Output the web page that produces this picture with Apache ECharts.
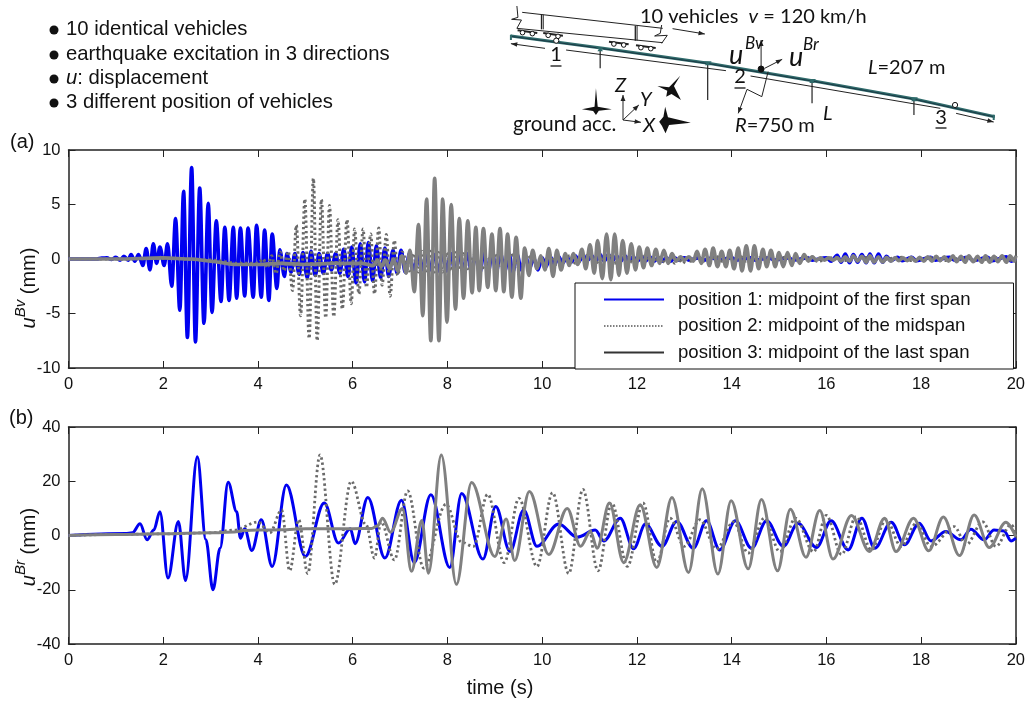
<!DOCTYPE html>
<html><head><meta charset="utf-8">
<style>html,body{margin:0;padding:0;background:#fff}#c{width:1028px;height:702px}</style>
<script src="https://cdn.jsdelivr.net/npm/echarts@6/dist/echarts.min.js"></script>
</head><body><div id="c"></div>
<script>
const seriesNames=['position 1: midpoint of the first span','position 2: midpoint of the midspan','position 3: midpoint of the last span'];
const xMax=20,xStep=2,yAMax=10,yAStep=5,yBMax=40,yBStep=20;
const blueA=[[0,0],[.6,0],[.7,.08],[.81,.1],[.91,-.05],[1,.15],[1.09,-.1],[1.17,.25],[1.26,-.1],[1.32,.4],[1.4,-.2],[1.48,.4],[1.57,-.6],[1.64,.95],[1.72,-1],[1.79,1.4],[1.86,-.4],[1.93,1.1],[2.02,-.6],[2.09,1.4],[2.18,-2.5],[2.26,3.7],[2.35,-4.7],[2.43,6.2],[2.51,-7.2],[2.6,8.4],[2.68,-7.6],[2.77,6.5],[2.86,-5.9],[2.95,5.1],[3.03,-4.9],[3.12,3.5],[3.22,-3.9],[3.3,2.9],[3.39,-3.8],[3.48,2.9],[3.55,-3.6],[3.63,2.85],[3.72,-3.4],[3.79,2.85],[3.9,-3.5],[3.97,3.1],[4.07,-3.5],[4.14,2.65],[4.23,-3.8],[4.3,2.3],[4.4,-2.7],[4.46,.85],[4.56,-1.6],[4.61,.5],[4.7,-1.2],[4.78,.5],[4.87,-1.4],[4.95,.6],[5.04,-1.7],[5.12,.7],[5.21,-1.5],[5.29,.5],[5.38,-1.3],[5.47,.5],[5.55,-1],[5.64,.5],[5.73,-1.3],[5.81,.9],[5.9,-1.6],[5.98,1.1],[6.07,-2.2],[6.16,1.4],[6.25,-2.1],[6.33,1.5],[6.42,-2],[6.5,1.2],[6.59,-1.7],[6.68,1],[6.76,-1.6],[6.85,.8],[6.94,-1.3],[7.02,.8],[7.11,-1.2],[7.2,.5],[7.28,-1.2],[7.37,.3],[7.46,-1],[7.55,.4],[7.63,-1],[7.72,.4],[7.81,-1.1],[7.9,.5],[7.98,-1.1],[8.07,.5],[8.16,-1.2],[8.25,.4],[8.33,-1],[8.42,.5],[8.51,-1.2],[8.6,.5],[8.68,-1.3],[8.77,.5],[8.86,-1.2],[8.95,.6],[9.03,-1.2],[9.12,.5],[9.21,-1.1],[9.3,.5],[9.38,-1.2],[9.47,.4],[9.56,-1],[9.65,.3],[9.73,-.9],[9.82,.1],[9.91,-1],[10,.1],[10.08,-.7],[10.17,.2],[10.26,-.5],[10.35,.2],[10.43,-.4],[10.52,.2],[10.61,-.3],[10.7,.3],[10.78,-.2],[10.87,.3],[10.96,-.1],[11.05,.3],[11.13,-.2],[11.22,.4],[11.31,-.2],[11.4,.4],[11.48,-.2],[11.57,.3],[11.66,-.2],[11.75,.3],[11.83,-.2],[11.92,.2],[12.01,-.2],[12.1,.2],[12.18,-.2],[12.27,.2],[12.36,-.2],[12.45,.1],[12.53,-.2],[12.62,.1],[12.71,-.2],[12.8,.1],[12.88,-.1],[13,.1],[13.1,-.1],[13.3,.1],[13.4,-.1],[13.6,.1],[13.7,-.1],[14,.1],[14.1,-.1],[14.4,.1],[14.5,-.1],[14.8,.1],[14.9,-.1],[15.2,.1],[15.3,-.1],[15.6,.1],[15.7,-.1],[16,.1],[16.1,-.2],[16.23,.35],[16.31,-.3],[16.4,.45],[16.49,-.35],[16.57,.4],[16.66,-.3],[16.75,.4],[16.84,-.35],[16.92,.45],[17.01,-.35],[17.1,.45],[17.19,-.3],[17.27,.25],[17.36,-.15],[17.5,.15],[17.6,-.15],[17.8,.15],[17.9,-.15],[18.2,.15],[18.3,-.1],[18.6,.15],[18.7,-.1],[19,.15],[19.1,-.15],[19.4,.15],[19.5,-.15],[19.8,.2],[19.9,-.2],[20,.1]];
const dottedA=[[0,0],[1,0],[2,.05],[3,-.1],[3.6,-.4],[4,-.4],[4.11,0],[4.2,-.8],[4.29,.3],[4.38,-1.35],[4.47,.65],[4.55,-1.1],[4.64,.7],[4.73,-2.9],[4.81,3.1],[4.9,-5.2],[4.99,5.5],[5.08,-7.3],[5.17,7.4],[5.25,-7.5],[5.34,5.45],[5.43,-5.4],[5.51,4.9],[5.6,-5.3],[5.69,3.6],[5.78,-4.6],[5.88,3.6],[5.97,-4.1],[6.04,2.75],[6.13,-3.2],[6.22,2.75],[6.29,-2.6],[6.38,2.3],[6.46,-3.2],[6.55,2.85],[6.62,-2.4],[6.71,2.25],[6.79,-3.4],[6.88,1.7],[6.95,-1.5],[7.04,.65],[7.2,-1.1],[7.29,.5],[7.38,-1.2],[7.46,.7],[7.55,-1.1],[7.64,.7],[7.72,-1.2],[7.81,.6],[7.9,-1.2],[7.99,.6],[8.07,-1.1],[8.16,.6],[8.25,-1],[8.33,.5],[8.42,-.9],[8.6,.5],[8.7,-.9],[9,.5],[9.1,-.8],[9.4,.4],[9.5,-.8],[9.8,.3],[9.9,-.6],[10.2,.3],[10.3,-.5],[10.6,.3],[10.7,-.4],[11,.4],[11.1,-.4],[11.4,.4],[11.5,-.4],[11.8,.3],[11.9,-.3],[12.2,.3],[12.3,-.3],[12.5,.15],[12.6,-.35],[12.72,.1],[12.8,-.4],[12.88,.05],[12.97,-.4],[13.05,.1],[13.14,-.2],[13.3,.2],[13.4,-.2],[13.7,.2],[13.8,-.2],[14.2,.2],[14.3,-.2],[14.7,.2],[14.8,-.2],[15.2,.2],[15.3,-.2],[15.7,.2],[15.8,-.2],[16.2,.15],[16.3,-.15],[16.9,.15],[17,-.15],[17.6,.15],[17.7,-.15],[18.3,.15],[18.4,-.15],[19,.15],[19.1,-.15],[19.7,.15],[19.8,-.15],[20,0]];
const grayA=[[0,0],[1,0],[2,.1],[2.6,0],[3,-.2],[3.5,-.5],[4,-.5],[4.5,-.4],[5,-.5],[5.6,-.4],[6.2,-.4],[6.43,-.6],[6.52,-.1],[6.6,-.7],[6.69,-.1],[6.78,-.9],[6.86,0],[6.95,-1.1],[7.04,.3],[7.13,-1.3],[7.21,.8],[7.3,-3],[7.39,3.15],[7.48,-5.2],[7.56,5.5],[7.65,-7.5],[7.73,7.4],[7.82,-7.5],[7.9,5.5],[7.99,-5.8],[8.08,5],[8.17,-4.6],[8.25,3.7],[8.34,-3.6],[8.43,3.5],[8.52,-3.1],[8.6,2.9],[8.67,-2.9],[8.76,2.8],[8.85,-2.6],[8.94,2.3],[9.02,-2.9],[9.11,2.8],[9.19,-3],[9.27,2.3],[9.36,-3.5],[9.45,2],[9.55,-3.6],[9.63,1],[9.72,-1.5],[9.8,.8],[9.89,-.9],[9.97,.3],[10.06,-1],[10.14,.95],[10.23,-1.6],[10.31,.8],[10.4,-1],[10.49,.5],[10.57,-.6],[10.66,.5],[10.75,-.5],[10.84,.9],[10.92,-.9],[11.01,1.3],[11.1,-1.3],[11.17,1.7],[11.27,-1.8],[11.36,2.3],[11.45,-1.9],[11.53,2.3],[11.62,-1.5],[11.7,1.7],[11.79,-1.3],[11.88,1.4],[11.97,-1],[12.05,1.1],[12.14,-.8],[12.22,1],[12.31,-.6],[12.4,.9],[12.48,-.4],[12.57,.8],[12.66,-.4],[12.74,.5],[12.83,-.2],[12.92,.2],[13,-.1],[13.1,.2],[13.19,-.2],[13.27,.7],[13.36,-.4],[13.44,.9],[13.53,-.6],[13.61,1],[13.7,-.7],[13.79,.7],[13.88,-.7],[13.96,.8],[14.05,-.9],[14.14,1],[14.22,-1.1],[14.31,1.2],[14.4,-1.1],[14.48,1.2],[14.57,-.9],[14.66,.9],[14.74,-.7],[14.83,.8],[14.92,-.7],[15,.6],[15.09,-.7],[15.18,.6],[15.27,-.6],[15.35,.5],[15.44,-.4],[15.53,.4],[15.62,-.2],[15.7,.2],[15.79,-.1],[15.88,.1],[15.96,-.1],[16.05,.1],[16.14,-.1],[16.23,.1],[16.31,-.2],[16.4,.2],[16.49,-.2],[16.57,.3],[16.66,-.2],[16.75,.25],[16.84,-.3],[16.92,.3],[17.01,-.3],[17.1,.2],[17.19,-.3],[17.27,.15],[17.36,-.2],[17.45,.1],[17.53,-.15],[17.62,.1],[17.71,-.15],[17.79,.15],[17.88,-.2],[17.97,.15],[18.06,-.2],[18.14,.2],[18.23,-.2],[18.32,.25],[18.4,-.15],[18.49,.2],[18.58,-.2],[18.67,.3],[18.75,-.25],[18.84,.25],[18.93,-.3],[19.01,.3],[19.1,-.25],[19.19,.25],[19.28,-.3],[19.36,.3],[19.45,-.3],[19.54,.25],[19.62,-.25],[19.71,.3],[19.8,-.3],[19.88,.3],[19.97,-.2],[20,.3]];
const blueB=[[0,0],[1.2,.7],[1.35,1],[1.51,4.3],[1.66,-1.6],[1.8,2],[1.93,8.8],[2.1,-15.7],[2.32,5.2],[2.47,-16.6],[2.72,29],[2.9,-1.6],[3.05,-20],[3.2,-4.7],[3.37,19.6],[3.55,8.8],[3.63,-1],[3.72,2.5],[3.87,-5.5],[4.07,5.8],[4.3,-11.4],[4.6,18.6],[5,-7.7],[5.4,12],[5.7,-2.8],[5.95,2.5],[6.05,-3],[6.32,14],[6.68,-8.3],[7.03,13],[7.3,-10],[7.65,15],[8.05,-11.8],[8.3,15.5],[8.75,-8.7],[9.02,10.7],[9.32,-5.9],[9.61,9.4],[9.89,-4],[10.35,4.2],[10.74,-.6],[11.12,2],[11.3,-2],[11.65,6.4],[11.93,-4.9],[12.18,4.2],[12.53,-4],[12.84,5.2],[13.19,-4.7],[13.47,5.4],[13.75,-5.3],[14.08,5.4],[14.42,-4.7],[14.74,5.4],[15.09,-4],[15.4,4.5],[15.79,-4.4],[16.1,5.4],[16.46,-5.3],[16.75,6.4],[17.02,-4.7],[17.37,4.9],[17.65,-3.4],[17.96,4.5],[18.21,-2],[18.52,1.5],[18.84,-1.6],[19.05,2.3],[19.33,-1.6],[19.54,2],[19.75,1.7],[19.9,-2],[20,-1]];
const dottedB=[[0,0],[1,.4],[2,.6],[3,1],[3.5,2],[4,5],[4.25,1],[4.5,9.4],[4.67,-13],[4.86,5.8],[5.05,-14],[5.31,29.7],[5.62,-18],[5.97,20],[6.28,4],[6.46,-8.3],[6.6,5],[6.88,-9],[7.16,16.4],[7.5,-12],[7.97,11.5],[8.3,-2.5],[8.55,-4],[8.85,15.2],[9.2,-10],[9.51,13.7],[9.89,-11.4],[10.22,15.8],[10.56,-14],[10.86,17],[11.18,-13],[11.47,12],[11.8,-11.4],[12.13,12],[12.42,-10],[12.7,6.4],[13,-4],[13.33,5.8],[13.68,-5],[14.04,5],[14.35,-6.5],[14.69,6.4],[15.02,-6],[15.35,6.4],[15.73,-6],[16,7.4],[16.32,-7],[16.63,7],[16.95,-5.3],[17.26,5.8],[17.58,-4],[17.9,4.5],[18.21,-4],[18.7,3.3],[18.95,-3.4],[19.3,5],[19.58,-4],[19.9,4],[20,1]];
const grayB=[[0,0],[1,.4],[2,.6],[3,1],[3.5,1.3],[3.7,1.8],[4,2],[4.5,2.1],[5,2.5],[5.5,2.5],[6,2.5],[6.4,2.6],[6.52,3.5],[6.63,6.4],[6.8,1.2],[7.05,10],[7.24,-13.2],[7.46,5.5],[7.6,-13.9],[7.87,29.7],[8.19,-18],[8.51,19.5],[9,-7.7],[9.24,6.1],[9.42,-9.2],[9.73,16.2],[10.14,-7],[10.53,10],[10.81,-4],[11.02,1.5],[11.16,-4.7],[11.42,12],[11.72,-10],[12.07,11.3],[12.42,-11.8],[12.74,14],[13.09,-13.6],[13.38,17.2],[13.71,-14.2],[13.99,12.8],[14.35,-12.3],[14.63,13.3],[14.97,-13],[15.24,9.7],[15.57,-8],[15.86,9.2],[16.14,-8.7],[16.53,7.4],[16.91,-5.9],[17.23,6.4],[17.47,-5.9],[17.84,6.4],[18.16,-5.6],[18.47,6.8],[18.81,-7.4],[19.12,7.6],[19.44,-4.4],[19.79,4.9],[20,-.4]];

const F='"Liberation Sans",Arial,sans-serif', D='Lato,sans-serif';
const green='#2f6b6b';
function Z(x,y){return [480+x/2.846,y/3];}
const g=[];
function line(pts,o={}){g.push({type:'polyline',silent:true,z:20,shape:{points:pts.map(p=>Z(p[0],p[1]))},style:{fill:null,stroke:o.c||'#222',lineWidth:o.w||1}});}
function arrow(a,b){line([a,b]);const dx=b[0]-a[0],dy=b[1]-a[1],L=Math.hypot(dx,dy),ux=dx/L,uy=dy/L,s=18,w=7;
 g.push({type:'polygon',silent:true,z:20,shape:{points:[b,[b[0]-ux*s-uy*w,b[1]-uy*s+ux*w],[b[0]-ux*s+uy*w,b[1]-uy*s-ux*w]].map(p=>Z(p[0],p[1]))},style:{fill:'#222'}});}
function dot(x,y,r,fill,o){const p=Z(x,y);g.push({type:'circle',silent:true,z:21,shape:{cx:p[0],cy:p[1],r:r},style:{fill:fill,stroke:'#111',lineWidth:1}});}
function poly(pts){g.push({type:'polygon',silent:true,z:20,shape:{points:pts.map(p=>Z(p[0],p[1]))},style:{fill:'#111'}});}
function txt(t,x,y,o={}){g.push({type:'text',silent:true,z:22,x:x,y:y,rotation:o.rot||0,style:Object.assign({text:t,fill:o.c||'#111',font:(o.it?'italic ':'')+(o.s||18)+'px '+(o.f||F),align:o.a||'left',verticalAlign:'middle'},o.rich?{rich:o.rich}:{})});}
// bullets
[['10 identical vehicles',29],['earthquake excitation in 3 directions',54],['displacement',78],['3 different position of vehicles',102]].forEach((b,i)=>{
  const cy=[30,55,79,103][i];
  g.push({type:'circle',silent:true,z:20,shape:{cx:54,cy:cy,r:4.5},style:{fill:'#111'}});
  if(i===2){txt('{i|u}{n|: displacement}',66,b[1],{rich:{i:{font:'italic 20.3px '+F,fill:'#111'},n:{font:'20.3px '+F,fill:'#111'}}});}
  else txt(b[0],66,b[1],{s:20.3});
});
txt('(a)',10,142,{s:20}); txt('(b)',9,418,{s:20});
// axis titles
const yt=(sup)=>'{i|u}{s|'+sup+'}{n| (mm)}';
const yr={i:{font:'italic 20px '+F,fill:'#111',verticalAlign:'bottom',lineHeight:26},s:{font:'italic 15px '+F,fill:'#111',verticalAlign:'top',lineHeight:26},n:{font:'20px '+F,fill:'#111',verticalAlign:'bottom',lineHeight:26}};
txt(yt('Bv'),26,288,{rot:Math.PI/2,a:'center',rich:yr});
txt(yt('Br'),26,547,{rot:Math.PI/2,a:'center',rich:yr});
txt('time (s)',500,688,{s:20,a:'center'});
// diagram: deck
const deck=[[88,108],[350,145],[650,190],[950,243],[1240,298],[1465,350]];
line(deck,{c:green,w:3});
line(deck.map(p=>[p[0],p[1]+1]),{c:'#123',w:.7});
[[342,148,342,205],[648,190,648,300],[945,243,945,310],[1235,298,1235,345]].forEach(p=>{line([[p[0],p[1]],[p[2],p[3]]],{w:1.2});
  g.push({type:'polygon',silent:true,z:21,shape:{points:[[p[0]-12,p[1]-6],[p[0]+12,p[1]-6],[p[0]+4,p[1]],[p[0]+8,p[1]+6],[p[0]-8,p[1]+6],[p[0]-4,p[1]]].map(q=>Z(q[0],q[1]))},style:{fill:green}});});
[[88,112],[1462,352]].forEach(p=>line([[p[0],p[1]-8],[p[0],p[1]+8]],{c:green,w:2}));
// span dimension lines
arrow([185,145],[88,131]);
line([[245,150],[700,212]]);line([[770,228],[1310,325]]);arrow([1355,340],[1462,366]);
// vehicles
line([[120,37],[520,85]]);line([[105,85],[520,128]]);
line([[175,43],[175,88]],{w:1.3});line([[180,44],[180,88]]);line([[442,77],[442,122]],{w:1.3});line([[447,78],[447,122]]);
line([[105,18],[108,52],[90,58],[118,60],[105,85]]);line([[517,75],[513,100],[497,108],[533,106],[517,130]]);
[[135,98],[208,106],[395,132],[472,143]].forEach(p=>{
  line([[p[0]-28,p[1]-7],[p[0]+28,p[1]+1]],{w:2});
  dot(p[0]-14,p[1],2.3,'#fff');dot(p[0]+14,p[1]+3,2.3,'#fff');
});
dot(217,122,2.6,'#fff');dot(1352,315,2.6,'#fff');dot(800,207,3,'#111');
arrow([548,86],[640,102]);
arrow([800,205],[800,120]);arrow([810,205],[860,178]);
line([[820,215],[802,290],[760,268]]);arrow([760,268],[735,340]);
arrow([407,360],[407,285]);arrow([407,360],[458,367]);arrow([407,360],[452,315]);
// ground-motion glyphs
poly([[330,265],[335,320],[375,328],[338,332],[330,345],[322,333],[290,328],[326,320]]);
poly([[570,227],[552,258],[572,300],[545,282],[530,290],[533,272],[505,258],[538,262]]);
poly([[527,320],[535,352],[600,368],[538,375],[528,400],[518,378],[510,365],[522,350]]);
// diagram text
const dr={i:{font:'italic 20px '+D,fill:'#111'},n:{font:'20px '+D,fill:'#111'}};
txt('{n|10 vehicles  }{i|v}{n| = 120 km/h}',640,17,{rich:dr});
txt('u',729,55,{it:1,s:27,f:D});txt('Bv',745,44,{it:1,s:17,f:D});
txt('u',789,57,{it:1,s:27,f:D});txt('Br',803,45,{it:1,s:17,f:D});
txt('{i|L}{n|=207 m}',868,68,{rich:dr});
txt('{i|R}{n|=750 m}',735,126,{rich:dr});
txt('L',823,114,{it:1,s:20,f:D});
txt('ground acc.',513,124,{s:20.5,f:D});
txt('Z',615,86,{it:1,s:20,f:D});txt('Y',640,100,{it:1,s:20,f:D});txt('X',643,126,{it:1,s:20,f:D});
[['1',556,55,69,66],['2',740,77,69,88],['3',941,118,69,128]].forEach(u=>{txt(u[0],u[1],u[2],{s:20,f:D,a:'center'});
  g.push({type:'line',silent:true,z:21,shape:{x1:u[1]-5.5,y1:u[4],x2:u[1]+5.5,y2:u[4]},style:{stroke:'#111',lineWidth:1.3}});});

const axisBase=(extra)=>Object.assign({axisLine:{onZero:false,lineStyle:{color:'#222',width:1.5}},axisTick:{inside:true,length:7,lineStyle:{color:'#222',width:1}},splitLine:{show:false},axisLabel:{show:true,color:'#111',fontFamily:F,fontSize:16.5,margin:8,hideOverlap:false,showMinLabel:true,showMaxLabel:true}},extra);
function hideLbl(o){o.axisLabel={show:false};return o;}
const grids=[{left:68.5,width:949.5,top:150,height:218},{left:68.5,width:949.5,top:427,height:217}];
const xA=[],yA=[];
[0,1].forEach(i=>{
  const yM=i?yBMax:yAMax, yS=i?yBStep:yAStep;
  xA.push(axisBase({type:'value',gridIndex:i,position:'bottom',min:0,max:xMax,interval:xStep}));
  xA.push(hideLbl(axisBase({type:'value',gridIndex:i,position:'top',min:0,max:xMax,interval:xStep})));
  yA.push(axisBase({type:'value',gridIndex:i,position:'left',min:-yM,max:yM,interval:yS}));
  yA.push(hideLbl(axisBase({type:'value',gridIndex:i,position:'right',min:-yM,max:yM,interval:yS})));
});
function S(i,data,k){
  const w=i?3:3.6;
  const st=[{color:'#0000f0',width:w},{color:'#6a6a6a',width:i?2.8:3,type:[2.4,2.8]},{color:'#808080',width:w}][k];
  return {type:'line',name:seriesNames[k],data:data,xAxisIndex:i*2,yAxisIndex:i*2,symbol:'none',smooth:0.35,smoothMonotone:'x',lineStyle:st,itemStyle:{color:st.color},animation:false,z:2+k,clip:true};
}
const chart=echarts.init(document.getElementById('c'),null,{renderer:'canvas'});
chart.setOption({animation:false,backgroundColor:'#fff',textStyle:{fontFamily:F},
 grid:grids,xAxis:xA,yAxis:yA,
 legend:{show:true,orient:'vertical',left:575,top:283,itemWidth:60,itemHeight:14,itemGap:7.5,padding:[7,43,7,28],backgroundColor:'#fff',borderColor:'#111',borderWidth:1,z:10,
   selectedMode:false,
   textStyle:{fontFamily:F,fontSize:18.6,color:'#111',padding:[0,0,0,9]},
   data:[{name:seriesNames[0],itemStyle:{opacity:0},lineStyle:{color:'#0000f0',width:2,opacity:1}},
         {name:seriesNames[1],itemStyle:{opacity:0},lineStyle:{color:'#555',width:1.5,type:[1.5,1.5],opacity:1}},
         {name:seriesNames[2],itemStyle:{opacity:0},lineStyle:{color:'#333',width:2,opacity:1}}]},
 series:[S(0,blueA,0),S(0,dottedA,1),S(0,grayA,2),S(1,blueB,0),S(1,dottedB,1),S(1,grayB,2)],
 graphic:g});
</script></body></html>
